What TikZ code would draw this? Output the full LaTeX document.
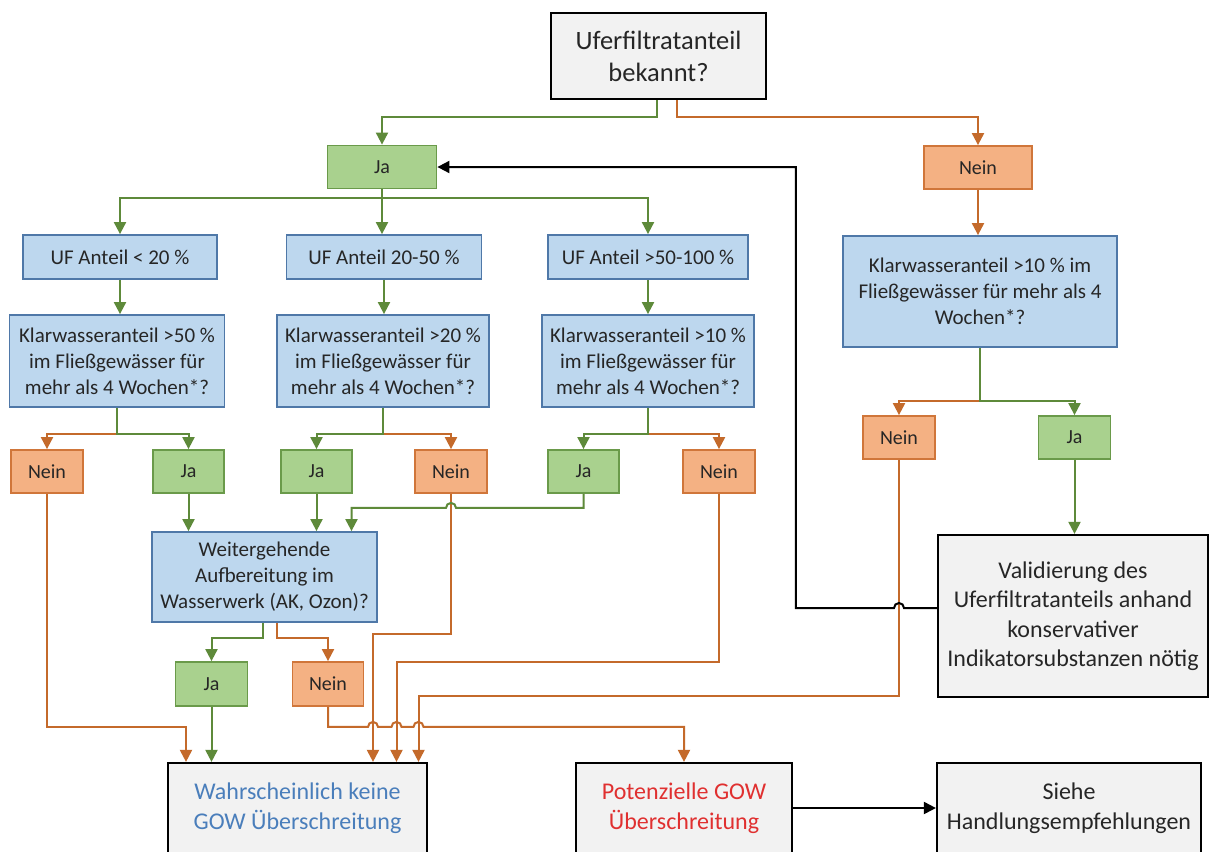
\documentclass[tikz,border=0pt]{standalone}
\usepackage{fontspec}
\setmainfont{Carlito}
\usetikzlibrary{arrows.meta,calc}
\definecolor{gfill}{HTML}{A9D18E}
\definecolor{gdraw}{HTML}{6A9A4A}
\definecolor{gline}{HTML}{5E8A3A}
\definecolor{ofill}{HTML}{F4B183}
\definecolor{odraw}{HTML}{D0763A}
\definecolor{oline}{HTML}{C46A2B}
\definecolor{bfill}{HTML}{BDD7EE}
\definecolor{bdraw}{HTML}{4F78A8}
\definecolor{kfill}{HTML}{F2F2F2}
\definecolor{btext}{HTML}{4A7EBB}
\definecolor{rtext}{HTML}{E03030}
\definecolor{dtext}{HTML}{262626}
\tikzset{
  box/.style={draw, line width=1.8pt, align=center, inner sep=0pt, text=dtext},
  gbox/.style={box, fill=gfill, draw=gdraw, font=\fontsize{20}{24}\selectfont},
  obox/.style={box, fill=ofill, draw=odraw, font=\fontsize{20}{24}\selectfont},
  bbox/.style={box, fill=bfill, draw=bdraw, font=\fontsize{21}{26}\selectfont},
  kbox/.style={box, fill=kfill, draw=black, line width=2.2pt, font=\fontsize{24}{29.5}\selectfont},
  wh/.style 2 args={minimum width=#1pt, minimum height=#2pt},
  tip/.style={-{Triangle[length=12pt,width=12pt]}},
  gl/.style={draw=gline, line width=2pt, tip},
  ol/.style={draw=oline, line width=2pt, tip},
  kl/.style={draw=black, line width=2pt, tip}
}
\begin{document}
\begin{tikzpicture}[x=1pt,y=-1pt]
\path[use as bounding box, fill=white] (0,0) rectangle (1209,851);
\clip (0,0) rectangle (1209,851);

% nodes
\node[kbox, wh={215}{86}, font=\fontsize{26.5}{32}\selectfont] (q0) at (658.5,56) {Uferfiltratanteil\\bekannt?};
\node[gbox, wh={109}{43}] (ja1) at (382,167) {Ja};
\node[obox, wh={108}{43}] (nein1) at (978,167.5) {Nein};
\node[bbox, wh={194}{44}] (uf1) at (120,257) {UF Anteil < 20 \%};
\node[bbox, wh={195}{44}] (uf2) at (384,257) {UF Anteil 20-50 \%};
\node[bbox, wh={200}{44}] (uf3) at (648,257) {UF Anteil >50-100 \%};
\node[bbox, wh={215}{92}] (kw1) at (117,361) {Klarwasseranteil >50 \%\\im Fließgewässer für\\mehr als 4 Wochen*?};
\node[bbox, wh={212}{92}] (kw2) at (383,361) {Klarwasseranteil >20 \%\\im Fließgewässer für\\mehr als 4 Wochen*?};
\node[bbox, wh={212}{92}] (kw3) at (648,361) {Klarwasseranteil >10 \%\\im Fließgewässer für\\mehr als 4 Wochen*?};
\node[bbox, wh={274}{111}] (kw4) at (980,291.5) {Klarwasseranteil >10 \% im\\Fließgewässer für mehr als 4\\Wochen*?};
\node[obox, wh={72}{43}] (n1) at (47,471.5) {Nein};
\node[gbox, wh={71}{43}] (j1) at (188.5,471.5) {Ja};
\node[gbox, wh={71}{43}] (j2) at (316.5,471.5) {Ja};
\node[obox, wh={72}{43}] (n2) at (451,471.5) {Nein};
\node[gbox, wh={71}{43}] (j3) at (583.5,471.5) {Ja};
\node[obox, wh={72}{43}] (n3) at (719,471.5) {Nein};
\node[obox, wh={72}{43}] (n4) at (899,437.5) {Nein};
\node[gbox, wh={72}{43}] (j4) at (1074.5,437.5) {Ja};
\node[bbox, wh={225}{90}] (wg) at (264.5,577) {Weitergehende\\Aufbereitung im\\Wasserwerk (AK, Ozon)?};
\node[gbox, wh={72}{44}] (j5) at (211.5,684) {Ja};
\node[obox, wh={71}{44}] (n5) at (328,684) {Nein};
\node[kbox, wh={259}{90}, text=btext] (wk) at (297.5,808) {Wahrscheinlich keine\\GOW Überschreitung};
\node[kbox, wh={216}{90}, text=rtext] (pg) at (684,808) {Potenzielle GOW\\Überschreitung};
\node[kbox, wh={264}{90}] (sh) at (1069,808) {Siehe\\Handlungsempfehlungen};
\node[kbox, wh={270}{162}] (val) at (1073,616) {Validierung des\\Uferfiltratanteils anhand\\konservativer\\Indikatorsubstanzen nötig};

% top split
\draw[gl] ([xshift=-1.5pt]q0.south) -- ++(0,17) -| (ja1.north);
\draw[ol] ([xshift=18.5pt]q0.south) -- ++(0,17) -| (nein1.north);

% Ja -> UF boxes
\draw[gl] (ja1.south) -- ++(0,9) -| (uf1.north);
\draw[gl] (ja1.south) -- (ja1.south |- uf2.north);
\draw[gl] (ja1.south) -- ++(0,9) -| (uf3.north);
\draw[ol] (nein1.south) -- (nein1.south |- kw4.north);

% UF -> Klarwasser
\draw[gl] (uf1.south) -- (uf1.south |- kw1.north);
\draw[gl] (uf2.south) -- (uf2.south |- kw2.north);
\draw[gl] (uf3.south) -- (uf3.south |- kw3.north);

% Klarwasser splits
\coordinate (s1) at ($(kw1.south)+(0,26)$);
\draw[ol] (s1) -| (n1.north);
\draw[gl] (kw1.south) -- (s1) -| (j1.north);
\coordinate (s2) at ($(kw2.south)+(0,26)$);
\draw[ol] (s2) -| (n2.north);
\draw[gl] (kw2.south) -- (s2) -| (j2.north);
\coordinate (s3) at ($(kw3.south)+(0,26)$);
\draw[ol] (s3) -| (n3.north);
\draw[gl] (kw3.south) -- (s3) -| (j3.north);
\coordinate (s4) at ($(kw4.south)+(0,53)$);
\draw[ol] (s4) -| (n4.north);
\draw[gl] (kw4.south) -- (s4) -| (j4.north);

% Nein lines to Wahrscheinlich
\draw[ol] (n1.south) |- ($(wk.north)+(-111.5,-35)$) -- ($(wk.north)+(-111.5,0)$);
\draw[ol] (n2.south) |- ($(wk.north)+(75.5,-128)$) -- ($(wk.north)+(75.5,0)$);
\draw[ol] (n3.south) |- ($(wk.north)+(99,-100)$) -- ($(wk.north)+(99,0)$);
\draw[ol] (n4.south) |- ($(wk.north)+(121,-66)$) -- ($(wk.north)+(121,0)$);

% Ja lines to Weitergehende
\draw[gl] (j1.south) -- (j1.south |- wg.north);
\draw[gl] (j2.south) -- (j2.south |- wg.north);
\coordinate (a3) at ($(j3.south)+(0,14)$);
\coordinate (wgin) at ($(wg.north)+(87,0)$);
\draw[gl] (j3.south) -- (a3) -- ($(a3 -| n2.south)+(5,0)$) arc[start angle=0, end angle=-180, radius=5] -- (a3 -| wgin) -- (wgin);

% Weitergehende split
\draw[gl] ([xshift=-1.5pt]wg.south) -- ++(0,15) -| (j5.north);
\draw[ol] ([xshift=12.5pt]wg.south) -- ++(0,15) -| (n5.north);
\draw[gl] (j5.south) -- (j5.south |- wk.north);

% Nein (Weitergehende) -> Potenzielle with hops
\coordinate (h1) at ($(wk.north)+(75.5,-35)$);
\coordinate (h2) at ($(wk.north)+(99,-35)$);
\coordinate (h3) at ($(wk.north)+(121,-35)$);
\draw[ol] (n5.south) |- ($(h1)+(-5,0)$) arc[start angle=180, end angle=360, radius=5]
  -- ($(h2)+(-5,0)$) arc[start angle=180, end angle=360, radius=5]
  -- ($(h3)+(-5,0)$) arc[start angle=180, end angle=360, radius=5]
  -| (pg.north);

% right side
\draw[gl] (j4.south) -- (j4.south |- val.north);
\coordinate (vw) at ($(val.west)+(0,-8)$);
\draw[kl] (vw) -- ($(vw -| n4.south)+(5,0)$) arc[start angle=0, end angle=-180, radius=5]
  -- ($(vw)+(-141,0)$) |- (ja1.east);

\draw[kl] (pg.east) -- (sh.west);
\end{tikzpicture}
\end{document}
